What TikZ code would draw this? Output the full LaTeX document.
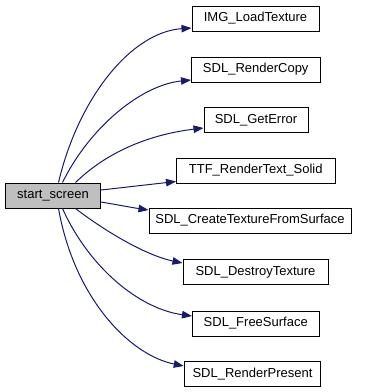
\documentclass[tikz,border=0pt]{standalone}
\usepackage{fontspec}
\setmainfont{Liberation Sans}
\usetikzlibrary{arrows.meta}
\definecolor{edgeblue}{HTML}{191970}
\begin{document}
\begin{tikzpicture}[x=1pt,y=-1pt,
  fn/.style={draw=black,line width=1pt,fill=white,inner sep=0pt,
    minimum height=25pt,font=\fontsize{13}{15}\selectfont},
  root/.style={fn,fill=black!25},
  call/.style={draw=edgeblue,line width=1pt,
    -{Triangle[length=10pt,width=7.5pt]}}]
\useasboundingbox (0,0) rectangle (368,392);

% caller
\node[root,minimum width=95pt]  (s) at (53,195.5) {start\_screen};

% callees
\node[fn,minimum width=127pt]   (a) at (255.5,18.5)  {IMG\_LoadTexture};
\node[fn,minimum width=128.5pt] (b) at (255.75,69.5) {SDL\_RenderCopy};
\node[fn,minimum width=104pt]   (c) at (256,120)     {SDL\_GetError};
\node[fn,minimum width=158.5pt] (d) at (255.75,170.5){TTF\_RenderText\_Solid};
\node[fn,minimum width=202pt]   (e) at (250,220.5)   {SDL\_CreateTextureFromSurface};
\node[fn,minimum width=145pt]   (f) at (255.5,272)   {SDL\_DestroyTexture};
\node[fn,minimum width=126.5pt] (g) at (255.75,323.5){SDL\_FreeSurface};
\node[fn,minimum width=136.5pt] (h) at (252.5,374)   {SDL\_RenderPresent};

% calls (shifts are in canvas units: negative yshift moves down)
\draw[call] ([xshift=53.5pt]s.north west) .. controls +(20,-85) and +(-60,4) .. ([yshift=-9.5pt]a.west);
\draw[call] ([xshift=57.5pt]s.north west) .. controls +(27,-55) and +(-50,5) .. ([yshift=-10.5pt]b.west);
\draw[call] ([xshift=70.5pt]s.north west) .. controls +(34,-33) and +(-50,6) .. ([yshift=-8pt]c.west);
\draw[call] ([yshift=5.5pt]s.east) -- ([yshift=-11pt]d.west);
\draw[call] ([yshift=-6.5pt]s.east) .. controls +(18,3) and +(-20,-3) .. ([yshift=10.5pt]e.west);
\draw[call] ([xshift=70.5pt]s.south west) .. controls +(34,26) and +(-34,-7) .. ([yshift=9pt]f.west);
\draw[call] ([xshift=57.5pt]s.south west) .. controls +(27,60) and +(-52,-7) .. ([yshift=7.5pt]g.west);
\draw[call] ([xshift=53.5pt]s.south west) .. controls +(16,90) and +(-54,-11) .. ([yshift=8pt]h.west);
\end{tikzpicture}
\end{document}
